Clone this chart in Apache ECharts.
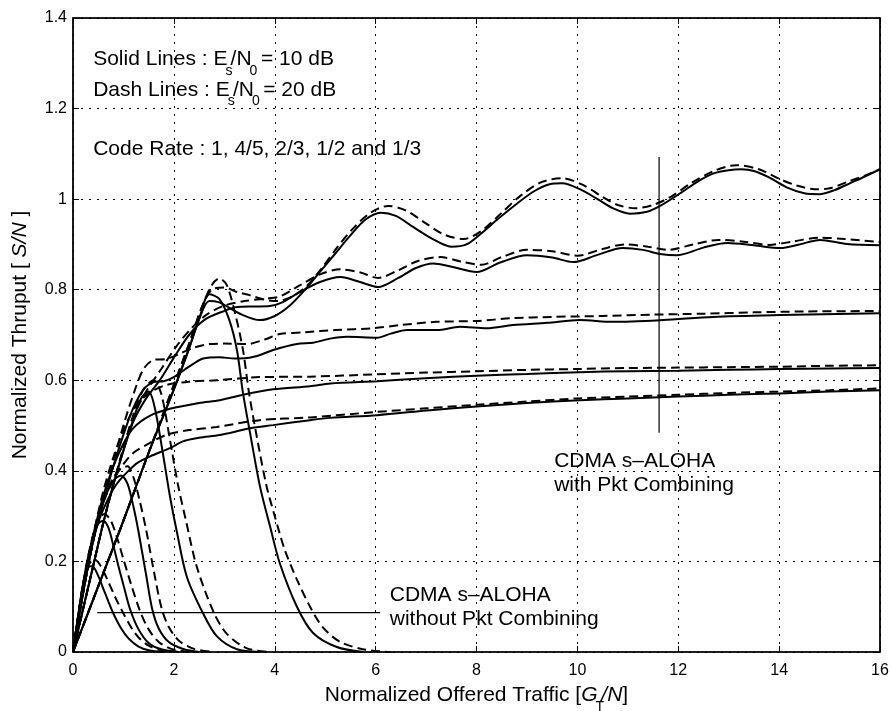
<!DOCTYPE html>
<html>
<head>
<meta charset="utf-8">
<title>CDMA s-ALOHA throughput</title>
<script src="https://cdn.jsdelivr.net/npm/echarts@6.0.0/dist/echarts.min.js"></script>
<style>
html, body { margin: 0; padding: 0; background: #fff; }
#chart { width: 892px; height: 711px; }
</style>
</head>
<body>
<div id="chart"></div>
<script>
// ---------------- axes ----------------
const X_TICKS = [0, 2, 4, 6, 8, 10, 12, 14, 16];
const Y_TICKS = [0, 0.2, 0.4, 0.6, 0.8, 1, 1.2, 1.4];
const Y_TICK_LABELS = ['0', '0.2', '0.4', '0.6', '0.8', '1', '1.2', '1.4'];

// ---------------- without packet combining (solid = 10 dB, dashed = 20 dB) ----------------
const noCombRate1Solid = [[0,0],[0.1,0.078],[0.2,0.15],[0.3,0.186],[0.38,0.19],[0.5,0.168],[0.6,0.14],[0.7,0.112],[0.8,0.085],[0.95,0.053],[1.1,0.03],[1.3,0.012],[1.5,0.004],[1.8,0]];
const noCombRate1Dash  = [[0,0],[0.1,0.078],[0.2,0.15],[0.3,0.19],[0.42,0.205],[0.55,0.19],[0.7,0.155],[0.85,0.118],[1.0,0.085],[1.15,0.055],[1.3,0.032],[1.5,0.014],[1.75,0.004],[2.1,0]];
const noCombRate45Solid = [[0,0],[0.1,0.075],[0.2,0.145],[0.3,0.205],[0.4,0.255],[0.5,0.283],[0.6,0.29],[0.7,0.275],[0.8,0.235],[0.9,0.19],[1.0,0.148],[1.13,0.095],[1.3,0.05],[1.5,0.02],[1.75,0.006],[2.1,0]];
const noCombRate45Dash  = [[0,0],[0.1,0.075],[0.2,0.145],[0.3,0.205],[0.4,0.255],[0.5,0.288],[0.62,0.305],[0.75,0.29],[0.88,0.25],[1.0,0.205],[1.15,0.15],[1.33,0.09],[1.5,0.05],[1.7,0.022],[1.95,0.007],[2.3,0]];
const noCombRate23Solid = [[0,0],[0.2,0.13],[0.4,0.245],[0.6,0.33],[0.8,0.378],[0.95,0.39],[1.08,0.372],[1.2,0.32],[1.3,0.265],[1.45,0.17],[1.57,0.095],[1.7,0.052],[1.9,0.022],[2.2,0.006],[2.5,0]];
const noCombRate23Dash  = [[0,0],[0.2,0.13],[0.4,0.245],[0.6,0.335],[0.8,0.385],[0.95,0.405],[1.08,0.41],[1.2,0.385],[1.32,0.335],[1.45,0.27],[1.6,0.18],[1.76,0.095],[1.9,0.055],[2.1,0.025],[2.4,0.007],[2.8,0]];
const noCombRate12Solid = [[0,0],[0.2,0.095],[0.4,0.19],[0.6,0.285],[0.8,0.37],[1.0,0.445],[1.2,0.515],[1.35,0.56],[1.5,0.575],[1.62,0.54],[1.78,0.44],[1.92,0.345],[2.06,0.265],[2.26,0.165],[2.58,0.085],[2.85,0.035],[3.25,0.006],[3.7,0]];
const noCombRate12Dash  = [[0,0],[0.2,0.095],[0.4,0.19],[0.6,0.285],[0.8,0.37],[1.0,0.45],[1.2,0.525],[1.4,0.58],[1.6,0.6],[1.75,0.57],[1.92,0.47],[2.08,0.37],[2.24,0.29],[2.45,0.19],[2.78,0.09],[3.05,0.04],[3.45,0.008],[3.9,0]];
const noCombRate13Solid = [[0,0],[0.5,0.145],[1.0,0.29],[1.5,0.44],[2.0,0.58],[2.3,0.67],[2.5,0.735],[2.7,0.79],[2.9,0.78],[3.1,0.733],[3.25,0.667],[3.37,0.572],[3.51,0.484],[3.71,0.364],[3.91,0.276],[4.1,0.196],[4.44,0.1],[4.76,0.042],[5.23,0.011],[5.75,0]];
const noCombRate13Dash  = [[0,0],[0.5,0.145],[1.0,0.29],[1.5,0.44],[2.0,0.59],[2.3,0.68],[2.55,0.76],[2.75,0.81],[2.9,0.825],[3.05,0.81],[3.22,0.745],[3.37,0.667],[3.49,0.572],[3.63,0.484],[3.83,0.37],[4.0,0.3],[4.2,0.225],[4.44,0.16],[4.7,0.1],[4.95,0.055],[5.3,0.022],[5.8,0.005],[6.3,0]];

// ---------------- with packet combining ----------------
const combRate13Solid = [[0,0],[0.5,0.145],[1.0,0.29],[1.5,0.44],[2.0,0.58],[2.3,0.67],[2.5,0.735],[2.7,0.775],[2.9,0.772],[3.1,0.76],[3.35,0.745],[3.7,0.733],[4.0,0.742],[4.3,0.765],[4.6,0.8],[4.9,0.84],[5.2,0.88],[5.5,0.92],[5.8,0.955],[6.1,0.97],[6.4,0.963],[6.75,0.938],[7.1,0.914],[7.5,0.895],[7.8,0.9],[8.1,0.925],[8.4,0.954],[8.8,0.99],[9.15,1.018],[9.45,1.033],[9.7,1.035],[10.05,1.022],[10.4,1.0],[10.7,0.98],[11.04,0.968],[11.38,0.972],[11.64,0.985],[12.04,1.013],[12.4,1.04],[12.7,1.057],[13.0,1.064],[13.25,1.066],[13.5,1.062],[13.8,1.048],[14.15,1.026],[14.5,1.013],[14.8,1.011],[15.1,1.02],[15.4,1.035],[15.7,1.05],[16,1.066]];
const combRate13Dash  = [[0,0],[0.5,0.145],[1.0,0.29],[1.5,0.44],[2.0,0.59],[2.3,0.68],[2.55,0.76],[2.75,0.8],[3.0,0.805],[3.25,0.795],[3.5,0.788],[3.8,0.778],[4.05,0.775],[4.35,0.785],[4.65,0.81],[4.95,0.85],[5.25,0.895],[5.55,0.935],[5.9,0.97],[6.25,0.985],[6.6,0.975],[6.95,0.95],[7.35,0.922],[7.75,0.912],[8.1,0.93],[8.5,0.97],[8.9,1.01],[9.3,1.038],[9.7,1.046],[10.1,1.032],[10.5,1.005],[10.8,0.987],[11.15,0.98],[11.5,0.987],[11.85,1.005],[12.25,1.035],[12.7,1.062],[13.15,1.075],[13.6,1.066],[14.0,1.045],[14.35,1.03],[14.7,1.022],[15.0,1.024],[15.35,1.038],[15.7,1.052],[16,1.066]];
const combRate12Solid = [[0,0],[0.2,0.095],[0.4,0.19],[0.6,0.285],[0.8,0.37],[1.0,0.445],[1.2,0.51],[1.45,0.56],[1.72,0.6],[2.0,0.65],[2.3,0.7],[2.6,0.733],[2.97,0.752],[3.25,0.762],[3.6,0.763],[3.9,0.764],[4.15,0.772],[4.5,0.795],[4.9,0.817],[5.3,0.828],[5.69,0.817],[6.05,0.806],[6.45,0.826],[6.8,0.848],[7.14,0.858],[7.53,0.85],[8.0,0.839],[8.47,0.86],[9.0,0.876],[9.5,0.871],[9.92,0.861],[10.4,0.877],[10.9,0.892],[11.3,0.888],[11.64,0.879],[11.97,0.876],[12.5,0.893],[12.97,0.903],[13.5,0.898],[14.02,0.892],[14.4,0.9],[14.81,0.91],[15.34,0.901],[16,0.898]];
const combRate12Dash  = [[0,0],[0.2,0.095],[0.4,0.19],[0.6,0.285],[0.8,0.37],[1.0,0.45],[1.2,0.52],[1.45,0.575],[1.75,0.625],[2.05,0.675],[2.35,0.715],[2.65,0.745],[3.0,0.765],[3.4,0.775],[3.8,0.78],[4.1,0.785],[4.5,0.81],[4.9,0.834],[5.3,0.845],[5.7,0.838],[6.05,0.826],[6.45,0.843],[6.85,0.864],[7.28,0.872],[7.7,0.862],[8.1,0.855],[8.5,0.872],[9.0,0.888],[9.5,0.885],[10.0,0.875],[10.5,0.89],[10.95,0.9],[11.4,0.895],[11.8,0.888],[12.3,0.9],[12.8,0.91],[13.3,0.906],[13.8,0.899],[14.3,0.907],[14.8,0.915],[15.3,0.912],[16,0.905]];
const combRate23Solid = [[0,0],[0.2,0.13],[0.4,0.245],[0.6,0.33],[0.8,0.41],[1.0,0.48],[1.2,0.54],[1.4,0.58],[1.6,0.596],[1.8,0.598],[2.0,0.607],[2.3,0.63],[2.58,0.648],[2.91,0.651],[3.2,0.648],[3.45,0.649],[3.71,0.656],[3.97,0.667],[4.44,0.68],[4.76,0.683],[5.1,0.692],[5.43,0.696],[6.03,0.694],[6.3,0.703],[6.62,0.711],[7.22,0.711],[7.67,0.718],[8.2,0.715],[8.72,0.722],[9.4,0.727],[10.05,0.733],[10.7,0.729],[11.7,0.733],[12.69,0.74],[14.02,0.744],[16,0.748]];
const combRate23Dash  = [[0,0],[0.2,0.13],[0.4,0.245],[0.6,0.335],[0.8,0.42],[1.0,0.5],[1.2,0.57],[1.4,0.625],[1.6,0.645],[1.85,0.647],[2.1,0.658],[2.4,0.672],[2.7,0.68],[3.0,0.681],[3.45,0.68],[3.8,0.69],[4.1,0.702],[4.6,0.706],[5.2,0.711],[5.95,0.715],[6.5,0.722],[7.2,0.729],[8.0,0.731],[8.7,0.737],[9.5,0.74],[10.5,0.742],[11.5,0.745],[12.5,0.747],[13.5,0.75],[14.5,0.752],[16,0.753]];
const combRate45Solid = [[0,0],[0.1,0.075],[0.2,0.145],[0.3,0.205],[0.4,0.258],[0.6,0.345],[0.8,0.41],[1.0,0.46],[1.2,0.495],[1.53,0.522],[1.92,0.537],[2.5,0.55],[2.91,0.556],[3.37,0.568],[3.97,0.58],[4.7,0.587],[5.1,0.593],[6.03,0.598],[7.08,0.605],[8.0,0.61],[9.0,0.614],[10.05,0.618],[11.0,0.62],[12.0,0.621],[13.0,0.623],[14.0,0.625],[15.0,0.626],[16,0.627]];
const combRate45Dash  = [[0,0],[0.1,0.075],[0.2,0.145],[0.3,0.205],[0.4,0.258],[0.6,0.355],[0.8,0.43],[1.0,0.49],[1.2,0.535],[1.4,0.562],[1.6,0.578],[1.86,0.59],[2.3,0.597],[2.85,0.6],[3.7,0.607],[4.7,0.608],[6.0,0.613],[7.0,0.617],[8.0,0.62],[9.0,0.623],[10.0,0.625],[11.0,0.627],[12.0,0.628],[13.0,0.629],[14.0,0.63],[15.0,0.632],[16,0.633]];
const combRate1Solid  = [[0,0],[0.1,0.078],[0.2,0.15],[0.3,0.21],[0.45,0.27],[0.6,0.315],[0.8,0.36],[0.93,0.38],[1.1,0.4],[1.27,0.417],[1.53,0.432],[1.92,0.45],[2.18,0.465],[2.5,0.473],[2.91,0.479],[3.51,0.494],[3.97,0.501],[4.7,0.512],[5.1,0.517],[6.03,0.523],[7.08,0.534],[8.0,0.542],[9.0,0.55],[10.05,0.556],[11.0,0.56],[12.0,0.564],[13.0,0.568],[14.0,0.571],[15.0,0.575],[16,0.578]];
const combRate1Dash   = [[0,0],[0.1,0.078],[0.2,0.15],[0.3,0.212],[0.45,0.28],[0.6,0.33],[0.8,0.38],[1.0,0.415],[1.2,0.44],[1.5,0.46],[1.86,0.48],[2.3,0.49],[2.85,0.497],[3.7,0.512],[4.7,0.518],[6.0,0.53],[7.0,0.538],[8.0,0.546],[9.0,0.553],[10.0,0.56],[11.0,0.564],[12.0,0.568],[13.0,0.572],[14.0,0.575],[15.0,0.578],[16,0.582]];

// ---------------- pointer lines for the two annotations ----------------
const combPointer   = [[11.62, 0.484], [11.62, 1.093]];
const noCombPointer = [[0.48, 0.087], [6.09, 0.087]];

// ---------------- drawing ----------------
const FONT = '"Liberation Sans", Arial, Helvetica, sans-serif';
const MAIN_SIZE = 21;
const SUB_SIZE = 14;
const TICK_SIZE = 16;

const curves = [
  { name: 'no-comb r=1 10dB', data: noCombRate1Solid, dashed: false },
  { name: 'no-comb r=1 20dB', data: noCombRate1Dash, dashed: true },
  { name: 'no-comb r=4/5 10dB', data: noCombRate45Solid, dashed: false },
  { name: 'no-comb r=4/5 20dB', data: noCombRate45Dash, dashed: true },
  { name: 'no-comb r=2/3 10dB', data: noCombRate23Solid, dashed: false },
  { name: 'no-comb r=2/3 20dB', data: noCombRate23Dash, dashed: true },
  { name: 'no-comb r=1/2 10dB', data: noCombRate12Solid, dashed: false },
  { name: 'no-comb r=1/2 20dB', data: noCombRate12Dash, dashed: true },
  { name: 'no-comb r=1/3 10dB', data: noCombRate13Solid, dashed: false },
  { name: 'no-comb r=1/3 20dB', data: noCombRate13Dash, dashed: true },
  { name: 'comb r=1/3 10dB', data: combRate13Solid, dashed: false },
  { name: 'comb r=1/3 20dB', data: combRate13Dash, dashed: true },
  { name: 'comb r=1/2 10dB', data: combRate12Solid, dashed: false },
  { name: 'comb r=1/2 20dB', data: combRate12Dash, dashed: true },
  { name: 'comb r=2/3 10dB', data: combRate23Solid, dashed: false },
  { name: 'comb r=2/3 20dB', data: combRate23Dash, dashed: true },
  { name: 'comb r=4/5 10dB', data: combRate45Solid, dashed: false },
  { name: 'comb r=4/5 20dB', data: combRate45Dash, dashed: true },
  { name: 'comb r=1 10dB', data: combRate1Solid, dashed: false },
  { name: 'comb r=1 20dB', data: combRate1Dash, dashed: true }
];

const series = curves.map(c => ({
  name: c.name,
  type: 'line',
  data: c.data,
  smooth: 0.3,
  showSymbol: false,
  silent: true,
  lineStyle: { color: '#000', width: 2, type: c.dashed ? [9, 5] : 'solid' },
  z: 3
}));

[combPointer, noCombPointer].forEach((d, i) => series.push({
  name: 'pointer ' + i,
  type: 'line',
  data: d,
  showSymbol: false,
  silent: true,
  lineStyle: { color: '#000', width: 1.2, type: 'solid' },
  z: 2
}));

const xMin = X_TICKS[0], xMax = X_TICKS[X_TICKS.length - 1], xStep = X_TICKS[1] - X_TICKS[0];
const yMin = Y_TICKS[0], yMax = Y_TICKS[Y_TICKS.length - 1], yStep = Y_TICKS[1] - Y_TICKS[0];

const gridLine = { show: true, lineStyle: { color: '#000', width: 1, type: [2, 6] } };
const frameLine = { show: true, onZero: false, lineStyle: { color: '#000', width: 1.5 } };
const innerTick = { show: true, inside: true, length: 6, lineStyle: { color: '#000', width: 1 } };

const chart = echarts.init(document.getElementById('chart'), null, { renderer: 'canvas' });

chart.setOption({
  animation: false,
  backgroundColor: '#fff',
  grid: { left: 73, right: 12, top: 18, bottom: 59, show: true, borderColor: '#000', borderWidth: 1.2, backgroundColor: 'transparent' },
  xAxis: [
    {
      type: 'value', min: xMin, max: xMax, interval: xStep, position: 'bottom',
      axisLine: frameLine, axisTick: innerTick, splitLine: gridLine,
      axisLabel: { color: '#000', fontSize: TICK_SIZE, fontFamily: FONT, margin: 11 }
    },
    {
      type: 'value', min: xMin, max: xMax, interval: xStep, position: 'top',
      axisLine: frameLine, axisTick: innerTick, splitLine: { show: false }, axisLabel: { show: false }
    }
  ],
  yAxis: [
    {
      type: 'value', min: yMin, max: yMax, interval: yStep, position: 'left',
      axisLine: frameLine, axisTick: innerTick, splitLine: gridLine,
      axisLabel: { color: '#000', fontSize: TICK_SIZE, fontFamily: FONT, margin: 6,
        formatter: (v) => Y_TICK_LABELS[Math.round((v - yMin) / yStep)] }
    },
    {
      type: 'value', min: yMin, max: yMax, interval: yStep, position: 'right',
      axisLine: frameLine, axisTick: innerTick, splitLine: { show: false }, axisLabel: { show: false }
    }
  ],
  series: series
});

// ---------------- text with sub-scripts ----------------
const meas = document.createElement('canvas').getContext('2d');
function fontOf(size, italic) { return (italic ? 'italic ' : '') + size + 'px ' + FONT; }
function widthOf(str, size, italic) { meas.font = fontOf(size, italic); return meas.measureText(str).width; }

// parts: plain strings; '_' prefix = subscript, '*' prefix = italic
function layoutRuns(parts) {
  let x = 0;
  const items = [];
  parts.forEach(p => {
    let sub = false, italic = false, t = p;
    if (t[0] === '_') { sub = true; t = t.slice(1); }
    else if (t[0] === '*') { italic = true; t = t.slice(1); }
    const size = sub ? SUB_SIZE : MAIN_SIZE;
    const w = widthOf(t, size, italic);
    const drop = sub ? 9 : 0;
    items.push({ t, size, italic, x: sub ? x - 2 : x, drop });
    x += sub ? w * 0.45 : w;
  });
  return { items, width: x };
}
function runElements(items, baseX, baseY) {
  return items.map(it => ({
    type: 'text',
    silent: true,
    style: {
      text: it.t,
      x: baseX + it.x,
      y: baseY + it.drop - 0.35 * it.size,
      font: fontOf(it.size, it.italic),
      fill: '#000',
      align: 'left',
      verticalAlign: 'middle'
    }
  }));
}
function noteAt(dataX, dataY, parts) {
  const p = chart.convertToPixel({ xAxisIndex: 0, yAxisIndex: 0 }, [dataX, dataY]);
  return runElements(layoutRuns(parts).items, p[0], p[1]);
}

const gridRect = { left: 73, top: 18, right: 892 - 12, bottom: 711 - 59 };
const graphics = [];
graphics.push(...noteAt(0.4, 1.292, ['Solid Lines : E', '_s', '/N', '_0', ' = 10 dB']));
graphics.push(...noteAt(0.4, 1.225, ['Dash Lines : E', '_s', '/N', '_0', ' = 20 dB']));
graphics.push(...noteAt(0.4, 1.093, ['Code Rate : 1, 4/5, 2/3, 1/2 and 1/3']));
graphics.push(...noteAt(9.54, 0.406, ['CDMA s\u2013ALOHA']));
graphics.push(...noteAt(9.54, 0.351, ['with Pkt Combining']));
graphics.push(...noteAt(6.28, 0.11, ['CDMA s\u2013ALOHA']));
graphics.push(...noteAt(6.28, 0.057, ['without Pkt Combining']));

// x axis title, centred under the plot
const xTitle = layoutRuns(['Normalized Offered Traffic [', '*G', '_T', '*/N', ']']);
graphics.push(...runElements(xTitle.items, (gridRect.left + gridRect.right) / 2 - xTitle.width / 2, 703));

// y axis title, rotated and centred beside the plot
const yTitle = layoutRuns(['Normalized Thruput [ ', '*S/N', ' ]']);
graphics.push({
  type: 'group',
  x: 28,
  y: (gridRect.top + gridRect.bottom) / 2,
  rotation: Math.PI / 2,
  silent: true,
  children: runElements(yTitle.items, -yTitle.width / 2, 0)
});

chart.setOption({ graphic: graphics });
</script>
</body>
</html>
